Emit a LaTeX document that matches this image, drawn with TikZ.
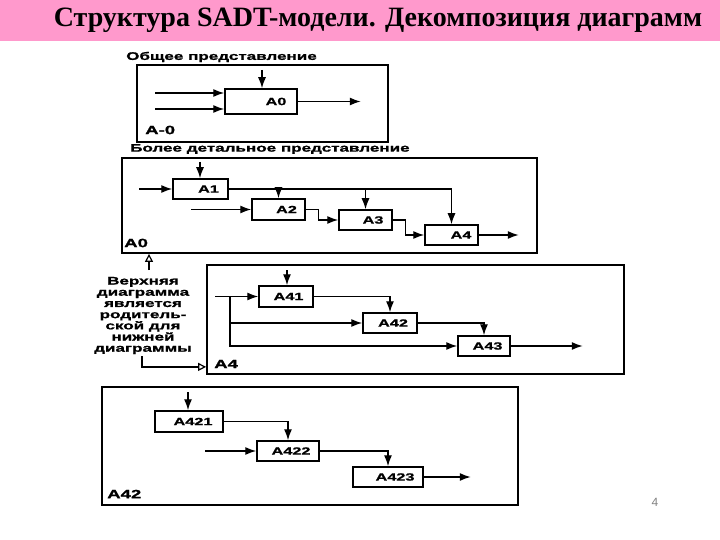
\documentclass[tikz,border=0pt]{standalone}
\usepackage{fontspec}
\setmainfont{Liberation Serif}
\newfontfamily\lblfont[FakeStretch=1.55,FakeBold=1.2]{Liberation Sans Bold}
\newfontfamily\pgfont{Liberation Sans}
\usetikzlibrary{arrows.meta}
\definecolor{titlepink}{RGB}{255,153,204}
\tikzset{
  panel/.style={draw, line width=1.8pt, inner sep=0pt},
  fbox/.style={draw, line width=1.5pt, inner sep=0pt, font=\lblfont\fontsize{10.5}{11}\selectfont},
  arr/.style={line width=1.3pt, -{Latex[length=11pt,width=8pt]}},
  hollow/.style={line width=1.3pt, -{Triangle[open,length=8pt,width=8pt,line width=1.2pt]}},
  head/.style={font=\lblfont\fontsize{11}{12}\selectfont, inner sep=0pt, anchor=west},
  plabel/.style={font=\lblfont\fontsize{12}{13}\selectfont, inner sep=0pt, anchor=west},
}
\newcommand{\bl}[2]{\hspace*{#1pt}#2}
\begin{document}
\begin{tikzpicture}[x=1pt,y=-1pt]
\useasboundingbox (0,0) rectangle (720,540);
\fill[titlepink] (0,0) rectangle (720,41);
\node[font=\bfseries\fontsize{28}{32}\selectfont, inner sep=0pt] (title) at (378,20) {Структура SADT-модели. Декомпозиция диаграмм};

% ---------- Panel 1
\node[head] (h1) at (126,57) {Общее представление};
\node[panel, minimum width=251pt, minimum height=77pt] (p1) at (262.5,103.5) {};
\node[fbox, minimum width=72pt, minimum height=25pt] (a0) at (261,101.5) {\bl{30}{\raisebox{-3.5pt}{A0}}};
\node[plabel] (l1) at (145,130) {A-0};
\coordinate (t0) at (262,70);
\coordinate (i01) at (155,93);
\coordinate (i02) at (155,109);
\draw[arr] (t0) -- (t0 |- a0.north);
\draw[arr] (i01) -- (i01 -| a0.west);
\draw[arr] (i02) -- (i02 -| a0.west);
\draw[arr] (a0.east) -- ++(63,0);

% ---------- Panel 2
\node[head] (h2) at (130,149) {Более детальное представление};
\node[panel, minimum width=415pt, minimum height=95pt] (p2) at (329.5,205.5) {};
\node[fbox, minimum width=55pt, minimum height=20pt] (a1) at (200.5,189) {\bl{16}{A1}};
\node[fbox, minimum width=53pt, minimum height=21pt] (a2) at (278.5,209.5) {\bl{16}{A2}};
\node[fbox, minimum width=53pt, minimum height=20pt] (a3) at (365.5,220) {\bl{15}{A3}};
\node[fbox, minimum width=53pt, minimum height=20pt] (a4) at (451.5,235) {\bl{19}{A4}};
\node[plabel] (l2) at (124,243) {A0};
\coordinate (t1) at (200,162);
\coordinate (i1) at (139,189);
\coordinate (i2) at (191,209.5);
\draw[arr] (t1) -- (t1 |- a1.north);
\draw[arr] (i1) -- (a1.west);
\draw[arr] (i2) -- (a2.west);
\draw[arr] (a1.east) -| (a4.north);
\draw[arr] (a2.north |- a1.east) -- (a2.north);
\draw[arr] (a3.north |- a1.east) -- (a3.north);
\draw[arr] (a2.east) -- ++(13,0) |- (a3.west);
\draw[arr] (a3.east) -- ++(13,0) |- (a4.west);
\draw[arr] (a4.east) -- ++(40,0);

% ---------- Annotation
\node[font=\lblfont\fontsize{11}{11.2}\selectfont, align=center, inner sep=0pt] (note) at (143,315.5)
  {Верхняя\\диаграмма\\является\\родитель-\\ской для\\нижней\\диаграммы};
\coordinate (nu) at (149,270);
\draw[hollow] (nu) -- (nu |- p2.south);

% ---------- Panel 3
\node[panel, minimum width=417pt, minimum height=109pt] (p3) at (415.5,319.5) {};
\coordinate (nd) at (142,356);
\draw[hollow] (nd) |- ([yshift=8pt]p3.south west);
\node[fbox, minimum width=54pt, minimum height=21pt] (a41) at (286,296.5) {\bl{5}{A41}};
\node[fbox, minimum width=54pt, minimum height=20pt] (a42) at (390,323) {\bl{6}{A42}};
\node[fbox, minimum width=52pt, minimum height=20pt] (a43) at (484,346) {\bl{7}{A43}};
\node[plabel] (l3) at (214,364) {A4};
\coordinate (t41) at (287,270);
\coordinate (i41) at (215,296.5);
\coordinate (j3) at (230,296.5);
\draw[arr] (t41) -- (t41 |- a41.north);
\draw[arr] (i41) -- (a41.west);
\draw[arr] (j3) |- (a43.west);
\draw[arr] (j3 |- a42.west) -- (a42.west);
\draw[arr] (a41.east) -| (a42.north);
\draw[arr] (a42.east) -| (a43.north);
\draw[arr] (a43.east) -- ++(72,0);

% ---------- Panel 4
\node[panel, minimum width=416pt, minimum height=118pt] (p4) at (310,446) {};
\node[fbox, minimum width=68pt, minimum height=21pt] (a421) at (189,421.5) {\bl{8}{A421}};
\node[fbox, minimum width=62pt, minimum height=20pt] (a422) at (288,451) {\bl{6}{A422}};
\node[fbox, minimum width=70pt, minimum height=20pt] (a423) at (388,477) {\bl{14}{A423}};
\node[plabel] (l4) at (107,494) {A42};
\coordinate (t421) at (188,392);
\coordinate (i422) at (205,451);
\draw[arr] (t421) -- (t421 |- a421.north);
\draw[arr] (i422) -- (a422.west);
\draw[arr] (a421.east) -| (a422.north);
\draw[arr] (a422.east) -| (a423.north);
\draw[arr] (a423.east) -- ++(47,0);

% ---------- page number
\node[font=\pgfont\fontsize{12}{14}\selectfont, text=gray, inner sep=0pt] (pg) at (655,502) {4};
\end{tikzpicture}
\end{document}
